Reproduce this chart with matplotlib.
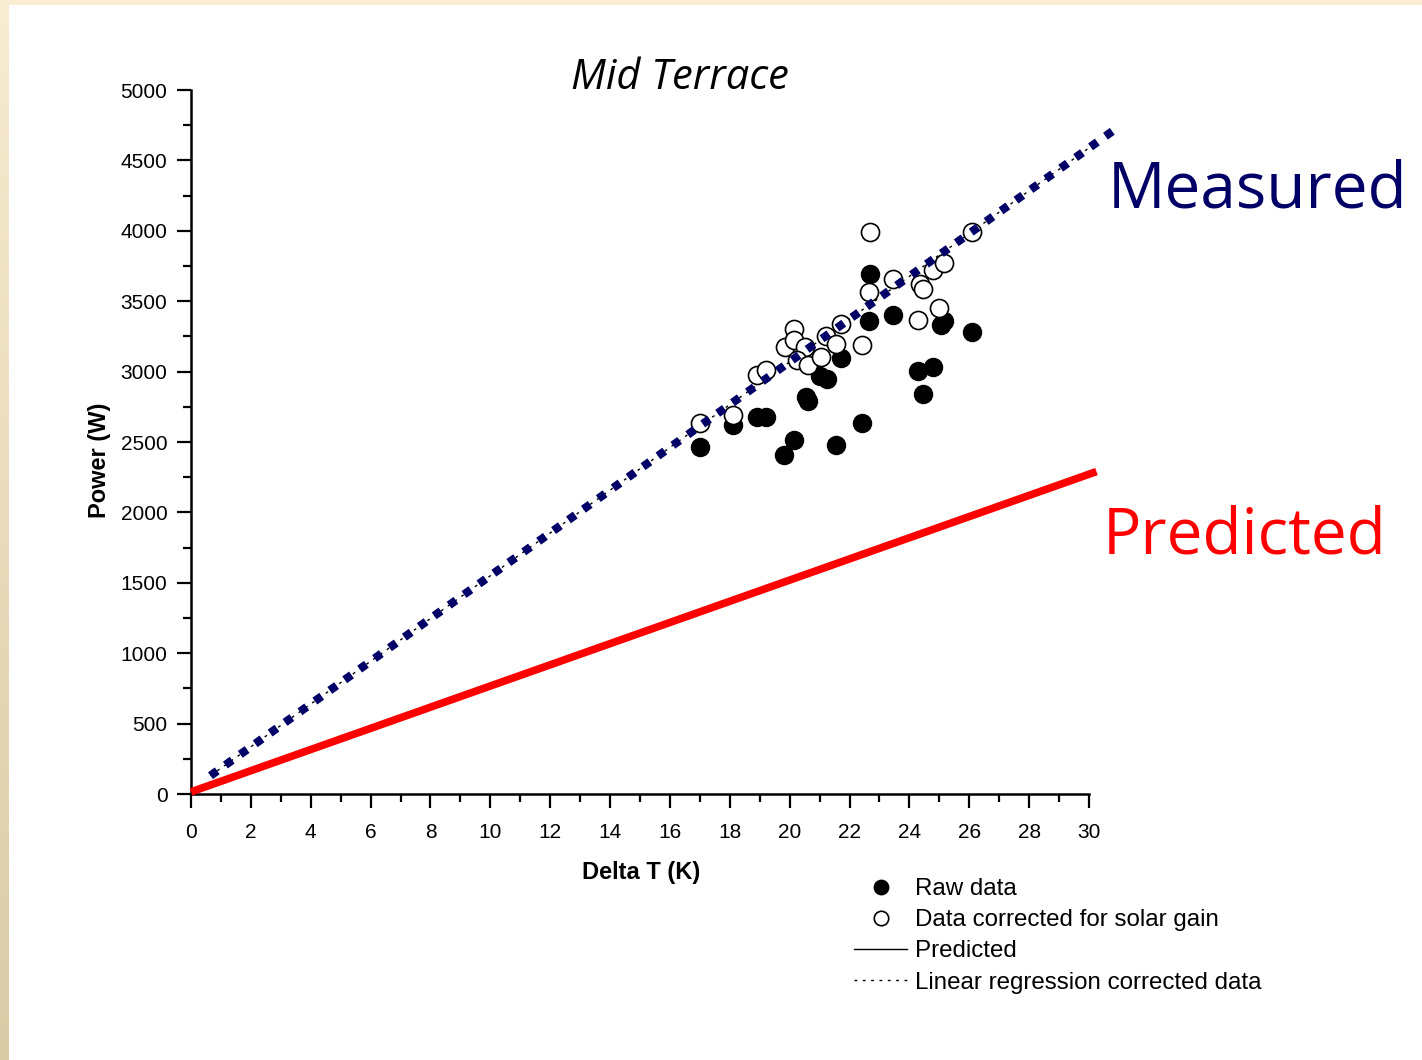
import numpy as np
import matplotlib.pyplot as plt
from matplotlib.ticker import MultipleLocator

# === Data ===
raw_dt = [17.0, 18.1, 18.9, 19.2, 20.15, 19.8, 20.55, 20.6, 21.0, 21.25, 21.7,
          21.55, 22.4, 22.65, 22.7, 23.45, 24.3, 24.8, 24.45, 25.05, 25.15, 26.1]
raw_power = [2465, 2620, 2675, 2675, 2515, 2410, 2820, 2790, 2970, 2950, 3100,
             2480, 2635, 3360, 3695, 3405, 3005, 3035, 2840, 3330, 3360, 3280]

corr_dt = [17.0, 18.1, 18.9, 19.2, 19.85, 20.15, 20.15, 20.5, 20.25, 20.6, 21.05,
           21.2, 21.55, 21.7, 22.4, 22.65, 22.7, 23.45, 24.3, 24.35, 24.45, 25.0,
           24.8, 25.15, 26.1]
corr_power = [2635, 2695, 2975, 3010, 3175, 3305, 3225, 3175, 3080, 3045, 3105,
              3250, 3195, 3340, 3190, 3565, 3990, 3655, 3365, 3625, 3585, 3455,
              3720, 3770, 3990]

pred_dt = [0.0, 30.25]
pred_power = [15, 2290]

meas_dt = [0.65, 30.9]
meas_power = [130, 4725]

# === Figure ===
fig = plt.figure(figsize=(14.22, 10.60), dpi=100)
fig.patch.set_facecolor('white')

# slide border (cream strip top, tan gradient left)
bg = fig.add_axes([0, 0, 1, 1], zorder=-10)
bg.set_axis_off()
bg.set_xlim(0, 1422)
bg.set_ylim(1060, 0)
bg.add_patch(plt.Rectangle((0, 0), 1422, 5, color='#F8ECD1', lw=0))
grad = np.linspace(0, 1, 256).reshape(-1, 1)
top_c = np.array([248, 236, 209]) / 255
bot_c = np.array([217, 203, 166]) / 255
img = top_c[None, None, :] * (1 - grad[:, :, None]) + bot_c[None, None, :] * grad[:, :, None]
bg.imshow(img, extent=[0, 9, 1060, 0], aspect='auto')

ax = fig.add_axes([191 / 1422, 1 - 794 / 1060, 898 / 1422, 704 / 1060])
ax.set_facecolor('none')

ax.plot(pred_dt, pred_power, color='black', lw=1, label='Predicted', zorder=2)
ax.plot(pred_dt, pred_power, color='#FF0000', lw=5.5, solid_capstyle='butt',
        clip_on=False, zorder=3)

ax.plot(meas_dt, meas_power, color='black', lw=1, ls=(0, (2, 4)),
        label='Linear regression corrected data', zorder=2)
ax.plot(meas_dt, meas_power, color='#000066', lw=6, ls=(0, (1, 1.2)),
        dash_capstyle='butt', clip_on=False, zorder=5)

ax.plot(raw_dt, raw_power, 'o', color='black', ms=13, label='Raw data', zorder=4)
ax.plot(corr_dt, corr_power, 'o', mfc='white', mec='black', mew=1.2, ms=13,
        label='Data corrected for solar gain', zorder=4)

ax.set_xlim(0, 30)
ax.set_ylim(0, 5000)
ax.xaxis.set_major_locator(MultipleLocator(2))
ax.xaxis.set_minor_locator(MultipleLocator(1))
ax.yaxis.set_major_locator(MultipleLocator(500))
ax.yaxis.set_minor_locator(MultipleLocator(250))
ax.spines['top'].set_visible(False)
ax.spines['right'].set_visible(False)
for s in ('left', 'bottom'):
    ax.spines[s].set_linewidth(1.8)
ax.tick_params(which='major', direction='out', length=10, width=1.6,
               labelsize=15, pad=7)
ax.tick_params(axis='x', which='major', pad=11)
ax.tick_params(which='minor', direction='out', length=6, width=1.6)
for lab in ax.get_xticklabels() + ax.get_yticklabels():
    lab.set_family('Liberation Sans')

ax.set_xlabel('Delta T (K)', fontsize=17, fontweight='bold',
              family='Liberation Sans')
ax.set_ylabel('Power (W)', fontsize=17, fontweight='bold',
              family='Liberation Sans')
ax.xaxis.set_label_coords((641 - 191) / 898, (794 - 872) / 704)
ax.xaxis.label.set_va('center')
ax.yaxis.set_label_coords((100 - 191) / 898, (794 - 460) / 704)
ax.yaxis.label.set_va('center')

fig.text(680 / 1422, 1 - 78 / 1060, 'Mid Terrace', fontsize=30, style='italic',
         family='Open Sans', ha='center', va='center')

fig.text(1108 / 1422, 1 - 207 / 1060, 'Measured', fontsize=46, color='#000066',
         family='Open Sans', ha='left', va='baseline')
fig.text(1103 / 1422, 1 - 553 / 1060, 'Predicted', fontsize=46, color='#FF0000',
         family='Open Sans', ha='left', va='baseline')

handles, labels = ax.get_legend_handles_labels()
order = [2, 3, 0, 1]
leg = ax.legend([handles[i] for i in order], [labels[i] for i in order],
                loc='upper left', bbox_to_anchor=(842 / 1422, 1 - 866 / 1060),
                bbox_transform=fig.transFigure, frameon=False,
                prop={'family': 'Liberation Sans', 'size': 17.4},
                handlelength=2.2, handletextpad=0.33, labelspacing=0.38,
                borderpad=0, markerscale=0.8)

plt.savefig('out.png', dpi=100)
